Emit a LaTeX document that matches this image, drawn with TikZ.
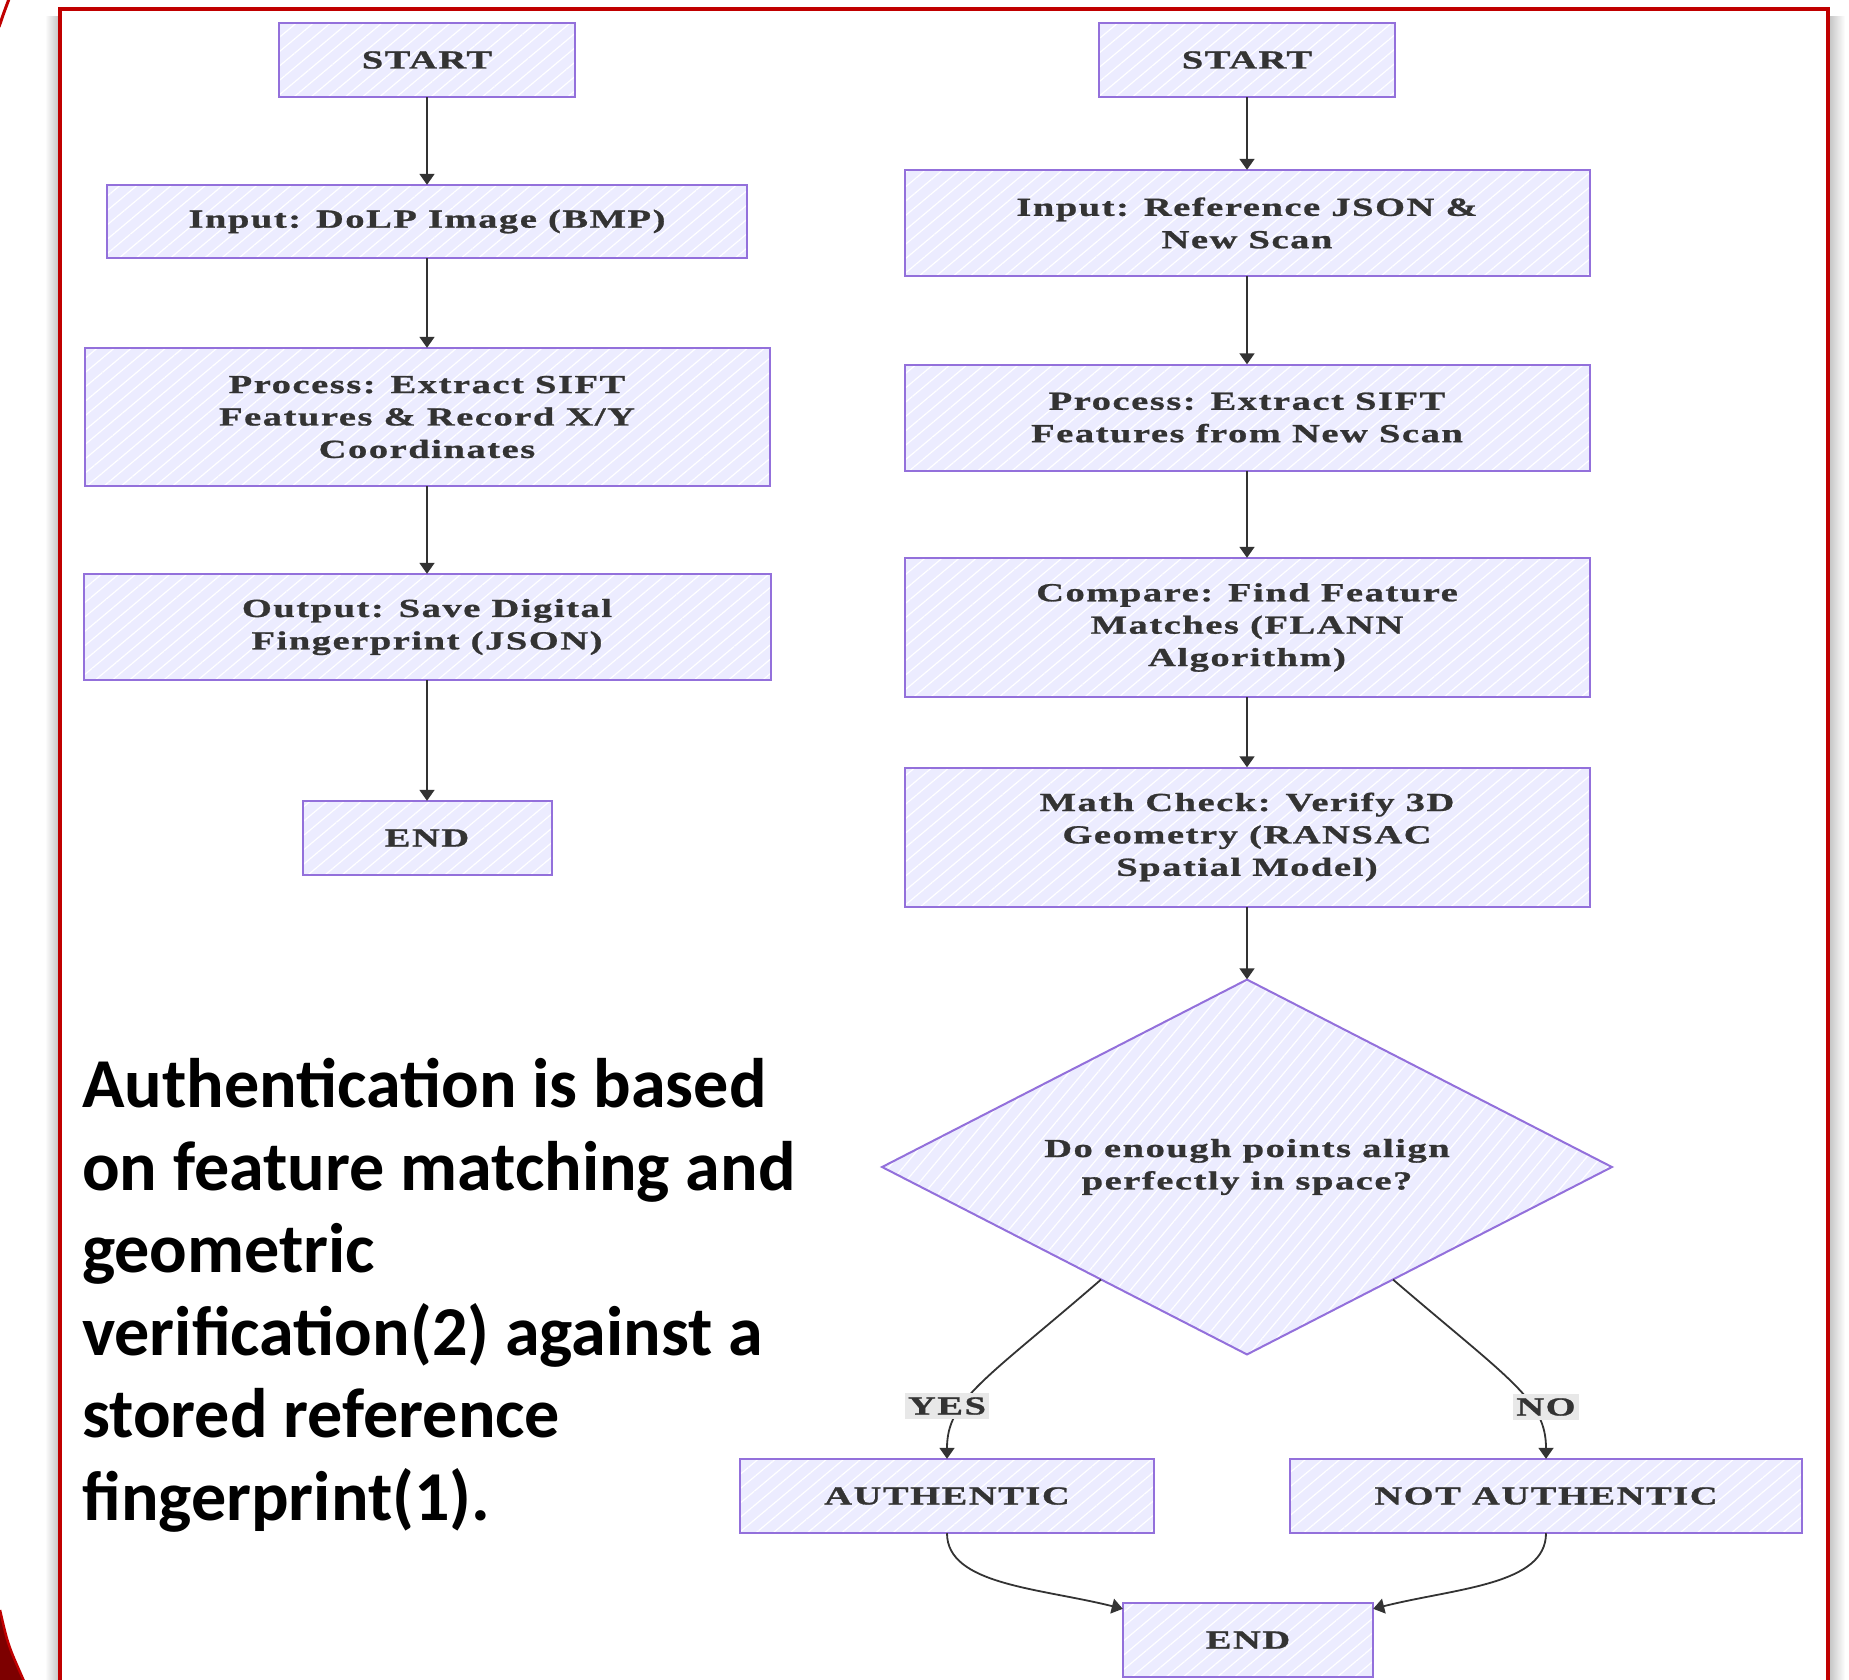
\documentclass[tikz,border=0pt]{standalone}
\usepackage{fontspec}
\usetikzlibrary{arrows.meta,shapes.geometric,patterns.meta,calc}
\newfontfamily\boxfont{Liberation Serif}[FakeStretch=1.48,LetterSpace=6,FakeBold=1]
\newfontfamily\bigfont{Carlito}
\definecolor{boxfill}{HTML}{ECECFF}
\definecolor{boxline}{HTML}{9370DB}
\definecolor{txt}{HTML}{333333}
\definecolor{framered}{HTML}{C00000}
\definecolor{lblbg}{HTML}{E8E8E8}
\tikzset{
  flowbox/.style={fill=boxfill,
    postaction={pattern={Lines[angle=40,distance=11pt,line width=1.2pt]}, pattern color=white},
    postaction={draw=boxline, line width=2pt},
    align=center, text=txt, inner sep=0pt,
    font=\boxfont\bfseries\fontsize{26}{32.4}\selectfont},
  decision/.style={fill=boxfill, shape=diamond, aspect=1.95, minimum width=730, minimum height=375,
    postaction={pattern={Lines[angle=50,distance=11pt,line width=1.2pt]}, pattern color=white},
    postaction={draw=boxline, line width=2pt},
    align=center, text=txt, inner sep=0pt,
    font=\boxfont\bfseries\fontsize{26}{32.4}\selectfont},
  lbl/.style={fill=lblbg, text=txt, inner xsep=3pt, inner ysep=4pt,
    font=\boxfont\bfseries\fontsize{26}{32.4}\selectfont},
  arr/.style={draw=txt, line width=1.8pt, -{Triangle[length=11pt,width=15pt]}},
}
\begin{document}
\begin{tikzpicture}[x=1pt,y=-1pt]
\useasboundingbox (0,0) rectangle (1849,1679);
\fill[white] (0,0) rectangle (1849,1679);
% frame shadow and frame
\shade[left color=white, right color=black!22] (45,16) rectangle (58,1679);
\shade[left color=black!22, right color=white] (1830,16) rectangle (1845,1679);
\draw[framered, line width=4.5pt] (60,9) rectangle (1828,1720);
% decorative red edges at left
\draw[framered, line width=3pt] (-1,27) .. controls (3,15) .. (9,-1);
\fill[framered!65!black] (0,1610) .. controls (8,1645) .. (24,1681) -- (0,1681) -- cycle;
\draw[framered, line width=2.5pt] (0,1610) .. controls (8,1645) .. (24,1681);

% left column
\node[flowbox, minimum width=296, minimum height=74] (ls) at (427,60) {START};
\node[flowbox, minimum width=640, minimum height=73] (li) at (427,221.5) {Input: DoLP Image (BMP)};
\node[flowbox, minimum width=685, minimum height=138] (lp) at (427,417) {Process: Extract SIFT\\Features \& Record X/Y\\Coordinates};
\node[flowbox, minimum width=687, minimum height=106] (lo) at (427,627) {Output: Save Digital\\Fingerprint (JSON)};
\node[flowbox, minimum width=249, minimum height=74] (le) at (427,838) {END};

\draw[arr] (ls) -- (li);
\draw[arr] (li) -- (lp);
\draw[arr] (lp) -- (lo);
\draw[arr] (lo) -- (le);

% right column
\node[flowbox, minimum width=296, minimum height=74] (rs) at (1247,60) {START};
\node[flowbox, minimum width=685, minimum height=106] (ri) at (1247,223) {Input: Reference JSON \&\\New Scan};
\node[flowbox, minimum width=685, minimum height=106] (rp) at (1247,417.5) {Process: Extract SIFT\\Features from New Scan};
\node[flowbox, minimum width=685, minimum height=139] (rc) at (1247,627.5) {Compare: Find Feature\\Matches (FLANN\\Algorithm)};
\node[flowbox, minimum width=685, minimum height=139] (rm) at (1247,837) {Math Check: Verify 3D\\Geometry (RANSAC\\Spatial Model)};
\node[decision] (dia) at (1247,1167) {Do enough points align\\perfectly in space?};
\node[flowbox, minimum width=414, minimum height=74] (au) at (947,1496) {AUTHENTIC};
\node[flowbox, minimum width=512, minimum height=74] (na) at (1546,1496) {NOT AUTHENTIC};
\node[flowbox, minimum width=250, minimum height=74] (re) at (1248,1640) {END};

\draw[arr] (rs) -- (ri);
\draw[arr] (ri) -- (rp);
\draw[arr] (rp) -- (rc);
\draw[arr] (rc) -- (rm);
\draw[arr] (rm) -- (dia);

\coordinate (ys) at ($(dia.west)!0.6!(dia.south)$);
\coordinate (ns) at ($(dia.east)!0.6!(dia.south)$);
\draw[arr] (ys) .. controls (985,1380) and (947,1400) .. (au.north);
\draw[arr] (ns) .. controls (1510,1380) and (1546,1400) .. (na.north);
\node[lbl] (yes) at (947,1406) {YES};
\node[lbl] (no) at (1546,1407) {NO};

\coordinate (el) at ($(re.north west)+(0,6)$);
\coordinate (er) at ($(re.north east)+(0,6)$);
\draw[arr] (au.south) .. controls (947,1585) and (1040,1588) .. (el);
\draw[arr] (na.south) .. controls (1546,1585) and (1456,1588) .. (er);

% caption text
\node[anchor=north west, inner sep=0pt, align=left, text=black,
  font=\bigfont\bfseries\fontsize{70.1}{82.5}\selectfont] (note) at (82,1058)
  {Authentication is based\\on feature matching and\\geometric\\verification(2) against a\\stored reference\\fingerprint(1).};
\end{tikzpicture}
\end{document}
